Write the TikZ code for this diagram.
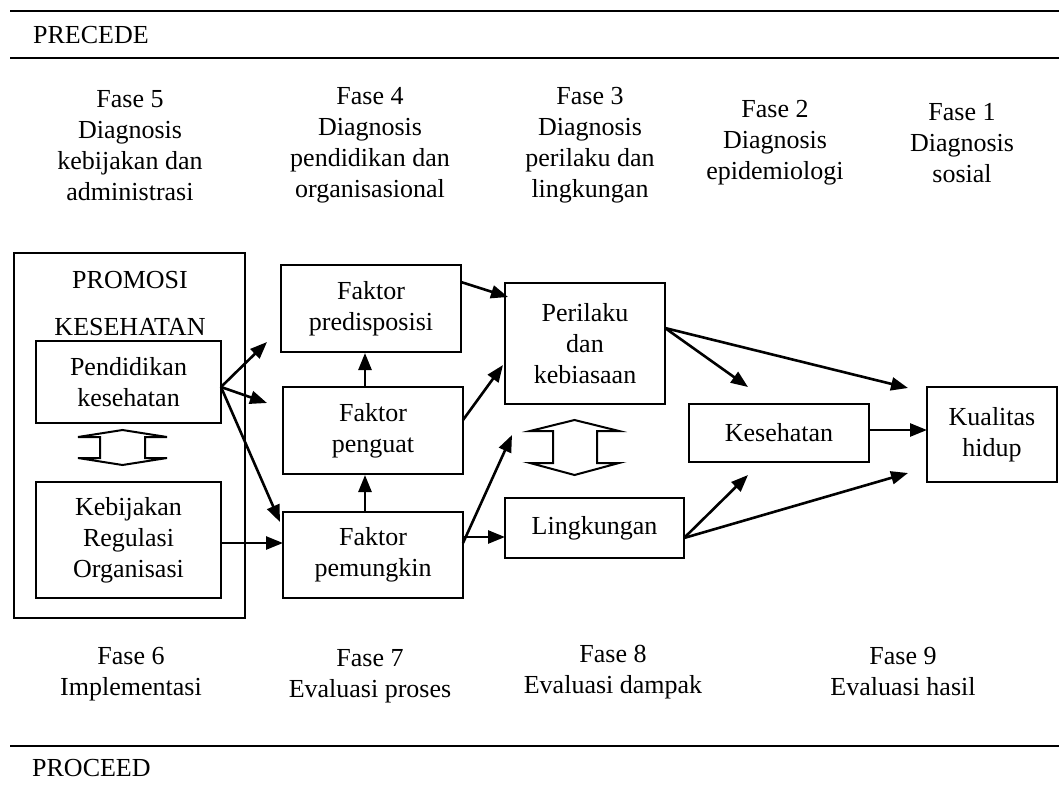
\documentclass[tikz,border=0pt]{standalone}
\usepackage{fontspec}
\setmainfont{Liberation Serif}
\usetikzlibrary{arrows.meta}
\begin{document}
\begin{tikzpicture}[x=1pt,y=-1pt,
  every node/.style={font=\fontsize{26}{31}\selectfont},
  box/.style={draw,line width=2pt,align=center,inner sep=0pt},
  lbl/.style={align=center,inner sep=0pt},
  conn/.style={line width=2.6pt,-{Triangle[length=17pt,width=13pt]}},
  rule/.style={line width=2pt},
  dblarrow/.style={line width=2pt,line join=miter}]
\useasboundingbox (0,0) rectangle (1059,789);
% rules
\coordinate (r1a) at (10,11); \coordinate (r1b) at (1059,11);
\coordinate (r2a) at (10,58); \coordinate (r2b) at (1059,58);
\coordinate (r3a) at (10,746); \coordinate (r3b) at (1059,746);
\draw[rule] (r1a) -- (r1b);
\draw[rule] (r2a) -- (r2b);
\draw[rule] (r3a) -- (r3b);
\node[lbl,anchor=west] (precede) at (33,35) {PRECEDE};
\node[lbl,anchor=west] (proceed) at (32,768) {PROCEED};
% top headings
\node[lbl] (f5) at (130,145.5) {Fase 5\\Diagnosis\\kebijakan dan\\administrasi};
\node[lbl] (f4) at (370,145.5) {Fase 4\\Diagnosis\\pendidikan dan\\organisasional};
\node[lbl] (f3) at (590,145.5) {Fase 3\\Diagnosis\\perilaku dan\\lingkungan};
\node[lbl] (f2) at (775,143) {Fase 2\\Diagnosis\\epidemiologi};
\node[lbl] (f1) at (962,143) {Fase 1\\Diagnosis\\sosial};
% bottom headings
\node[lbl] (f6) at (131,674) {Fase 6\\Implementasi};
\node[lbl] (f7) at (370,676) {Fase 7\\Evaluasi proses};
\node[lbl] (f8) at (613,672) {Fase 8\\Evaluasi dampak};
\node[lbl] (f9) at (903,672) {Fase 9\\Evaluasi hasil};
% boxes
\node[box,minimum width=231,minimum height=365] (promo) at (129.5,435.5) {};
\node[lbl] (promotxt) at (130,303.5) {PROMOSI\\[16pt]KESEHATAN};
\node[box,minimum width=185,minimum height=82] (pend) at (128.5,382) {Pendidikan\\kesehatan};
\node[box,minimum width=185,minimum height=116] (kebij) at (128.5,540) {Kebijakan\\Regulasi\\Organisasi};
\node[box,minimum width=180,minimum height=87] (pred) at (371,308.5) {Faktor\\predisposisi};
\node[box,minimum width=180,minimum height=87] (peng) at (373,430.5) {Faktor\\penguat};
\node[box,minimum width=180,minimum height=86] (pemu) at (373,555) {Faktor\\pemungkin};
\node[box,minimum width=160,minimum height=121] (peril) at (585,343.5) {Perilaku\\dan\\kebiasaan};
\node[box,minimum width=179,minimum height=60] (ling) at (594.5,528) {Lingkungan};
\node[box,minimum width=180,minimum height=58] (kes) at (779,433) {Kesehatan};
\node[box,minimum width=130,minimum height=95] (kual) at (992,434.5) {Kualitas\\hidup};
% double arrows
\draw[dblarrow] (122.5,430) -- (167,437) -- (145,437) -- (145,458) -- (167,458) -- (122.5,465)
  -- (78,458) -- (100,458) -- (100,437) -- (78,437) -- cycle;
\draw[dblarrow] (574.5,420) -- (619,431) -- (597,431) -- (597,463) -- (619,463) -- (574.5,475)
  -- (530,463) -- (553,463) -- (553,431) -- (530,431) -- cycle;
% connector coordinates
\coordinate (pendout) at (221,387);
\coordinate (t1) at (267,342);
\coordinate (t2) at (267,403);
\coordinate (t3) at (280,522);
\coordinate (kebout) at (221,543);
\coordinate (t4) at (283,543);
\coordinate (predout) at (461,282);
\coordinate (t7) at (508,297);
\coordinate (pengout) at (463,420);
\coordinate (t8) at (503,365);
\coordinate (pemuout1) at (463,543);
\coordinate (t9) at (512,435);
\coordinate (pemuout2) at (463,537);
\coordinate (t10) at (505,537);
\coordinate (perout) at (665,328);
\coordinate (t11) at (748,387);
\coordinate (t12) at (908,388);
\coordinate (kesout) at (869,430);
\coordinate (t13) at (927,430);
\coordinate (lingout) at (684,538);
\coordinate (t14) at (748,475);
\coordinate (t15) at (908,473);
% connectors
\draw[conn] (pendout) -- (t1);
\draw[conn] (pendout) -- (t2);
\draw[conn] (pendout) -- (t3);
\draw[conn] (kebout) -- (t4);
\draw[conn] (peng.north-|365,0) -- (pred.south-|365,0);
\draw[conn] (pemu.north-|365,0) -- (peng.south-|365,0);
\draw[conn] (predout) -- (t7);
\draw[conn] (pengout) -- (t8);
\draw[conn] (pemuout1) -- (t9);
\draw[conn] (pemuout2) -- (t10);
\draw[conn] (perout) -- (t11);
\draw[conn] (perout) -- (t12);
\draw[conn] (kesout) -- (t13);
\draw[conn] (lingout) -- (t14);
\draw[conn] (lingout) -- (t15);
\end{tikzpicture}
\end{document}
